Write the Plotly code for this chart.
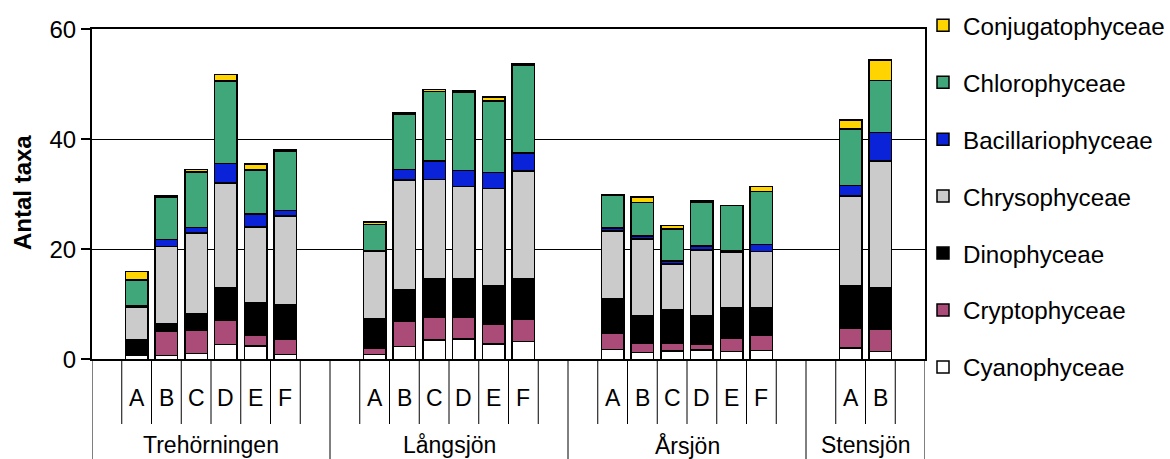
import plotly.graph_objects as go

groups = ["Trehörningen", "Långsjön", "Årsjön", "Stensjön"]
sites = [["A", "B", "C", "D", "E", "F"],
         ["A", "B", "C", "D", "E", "F"],
         ["A", "B", "C", "D", "E", "F"],
         ["A", "B"]]

# values in bar order: Trehörningen A-F, Långsjön A-F, Årsjön A-F, Stensjön A-B
cyanophyceae = [0.7, 0.65, 1.1, 2.7, 2.4, 0.9,
                0.9, 2.3, 3.5, 3.7, 2.8, 3.2,
                1.8, 1.2, 1.5, 1.7, 1.4, 1.6,
                2.1, 1.4]
cryptophyceae = [0.0, 4.4, 4.2, 4.4, 2.0, 2.7,
                 1.2, 4.7, 4.1, 4.0, 3.6, 4.1,
                 2.9, 1.8, 1.5, 1.0, 2.5, 2.8,
                 3.6, 4.1]
dinophyceae = [2.8, 1.5, 2.9, 5.9, 5.9, 6.4,
               5.2, 5.7, 7.0, 6.9, 7.0, 7.3,
               6.4, 4.9, 6.0, 5.2, 5.4, 5.0,
               7.7, 7.5]
chrysophyceae = [6.0, 14.0, 14.8, 19.1, 13.8, 16.1,
                 12.4, 19.9, 18.1, 16.8, 17.7, 19.6,
                 12.2, 14.0, 8.3, 12.0, 10.1, 10.2,
                 16.3, 23.1]
bacillariophyceae = [0.3, 1.2, 1.0, 3.5, 2.3, 1.0,
                     0.1, 1.9, 3.4, 2.9, 2.9, 3.3,
                     0.6, 0.5, 0.6, 0.7, 0.3, 1.3,
                     1.9, 5.1]
chlorophyceae = [4.6, 7.8, 10.1, 15.0, 8.0, 10.8,
                 4.7, 10.0, 12.6, 14.2, 13.0, 16.0,
                 6.0, 6.1, 5.8, 7.9, 8.3, 9.6,
                 10.3, 9.5]
conjugatophyceae = [1.6, 0.2, 0.4, 1.2, 1.1, 0.2,
                    0.5, 0.3, 0.4, 0.3, 0.7, 0.3,
                    0.0, 1.0, 0.6, 0.3, 0.0, 0.9,
                    1.6, 3.7]

series = [
    ("Cyanophyceae", cyanophyceae, "#FFFFFF"),
    ("Cryptophyceae", cryptophyceae, "#AA4B78"),
    ("Dinophyceae", dinophyceae, "#000000"),
    ("Chrysophyceae", chrysophyceae, "#CBCBCB"),
    ("Bacillariophyceae", bacillariophyceae, "#0A22D8"),
    ("Chlorophyceae", chlorophyceae, "#3FA77A"),
    ("Conjugatophyceae", conjugatophyceae, "#FFD400"),
]

FONT = "Liberation Sans, Arial, sans-serif"
W, H = 1170, 459
PLOT_L, PLOT_R, PLOT_T, PLOT_B = 92, 925, 29.3, 359.3


def py(px):  # pixel row -> paper fraction (margins are zero)
    return 1 - px / H


# slot positions: one empty slot before and after each group
xpos = []
group_bounds = []
letter_bounds = []
group_centers = []
pos = 0
for g, s in zip(groups, sites):
    start = pos
    pos += 1
    xs = list(range(pos, pos + len(s)))
    xpos.extend(xs)
    letter_bounds.extend([x - 0.5 for x in xs] + [xs[-1] + 0.5])
    pos += len(s) + 1
    group_bounds.append(start - 0.5)
    group_centers.append((start - 0.5 + pos - 0.5) / 2)
group_bounds.append(pos - 0.5)
letters = [l for s in sites for l in s]

fig = go.Figure()
n = len(series)
for i, (name, vals, col) in enumerate(series):
    fig.add_trace(go.Bar(
        x=xpos, y=vals, name=name, width=0.76,
        marker=dict(color=col, line=dict(color="black", width=1.5)),
        legendgroup=name, legendrank=n - i,
    ))

shapes = []
for b in letter_bounds:
    shapes.append(dict(type="line", xref="x", yref="paper", x0=b, x1=b,
                       y0=py(PLOT_B), y1=py(424), line=dict(color="black", width=1)))
for b in group_bounds:
    shapes.append(dict(type="line", xref="x", yref="paper", x0=b, x1=b,
                       y0=py(PLOT_B), y1=0, line=dict(color="black", width=1)))

annotations = []
for x, l in zip(xpos, letters):
    annotations.append(dict(x=x, y=py(398), xref="x", yref="paper", text=l,
                            showarrow=False, font=dict(size=23, color="black", family=FONT),
                            xanchor="center", yanchor="middle"))
for c, g in zip(group_centers, groups):
    annotations.append(dict(x=c, y=py(445), xref="x", yref="paper", text=g,
                            showarrow=False, font=dict(size=23, color="black", family=FONT),
                            xanchor="center", yanchor="middle"))
annotations.append(dict(x=22 / W, y=py(193), xref="paper", yref="paper", text="<b>Antal taxa</b>",
                        textangle=-90, showarrow=False,
                        font=dict(size=24, color="black", family=FONT),
                        xanchor="center", yanchor="middle"))

fig.update_layout(
    template="none",
    width=W, height=H,
    margin=dict(l=0, r=0, t=0, b=0, pad=0),
    paper_bgcolor="white", plot_bgcolor="white",
    barmode="stack",
    font=dict(family=FONT, size=22, color="black"),
    showlegend=True,
    legend=dict(x=923 / W, xanchor="left", y=py(3), yanchor="top",
                traceorder="grouped", tracegroupgap=22.5, maxheight=H,
                font=dict(size=24.2, color="black", family=FONT),
                bgcolor="rgba(0,0,0,0)", borderwidth=0),
    xaxis=dict(domain=[PLOT_L / W, PLOT_R / W], range=[-0.5, pos - 0.5],
               showticklabels=False, ticks="", automargin=False,
               showgrid=False, zeroline=False, showline=True, mirror=True,
               linecolor="black", linewidth=2),
    yaxis=dict(domain=[py(PLOT_B), py(PLOT_T)], range=[0, 60],
               tickvals=[0, 20, 40, 60], ticks="outside", automargin=False,
               ticklen=9, tickwidth=1.5, tickcolor="black", ticklabelstandoff=0,
               showgrid=True, gridcolor="black", gridwidth=1.3,
               zeroline=False, showline=True, mirror=True,
               linecolor="black", linewidth=2,
               tickfont=dict(size=24, color="black", family=FONT)),
    shapes=shapes,
    annotations=annotations,
)

fig.write_html("out.html", config={"displayModeBar": False},
               post_script="document.body.style.margin='0';")
